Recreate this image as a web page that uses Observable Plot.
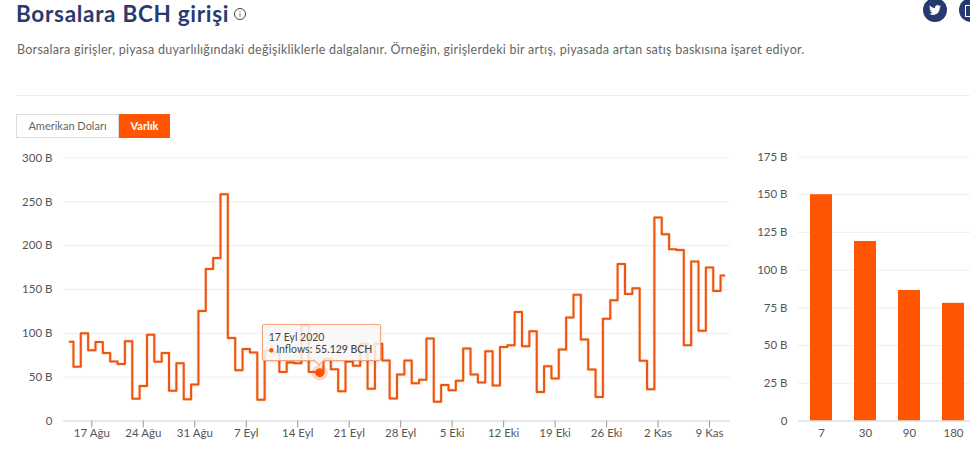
<!DOCTYPE html>
<html lang="tr">
<head>
<meta charset="utf-8">
<script src="https://cdn.jsdelivr.net/npm/d3@7"></script>
<script src="https://cdn.jsdelivr.net/npm/@observablehq/plot@0.6"></script>
<style>
html,body{margin:0;padding:0;background:#fff;width:970px;height:457px;overflow:hidden;font-family:Lato,sans-serif}
#page{position:relative;width:970px;height:457px;overflow:hidden}
.abs{position:absolute}
#title{left:16px;top:0;font-size:22.5px;font-weight:700;color:#2b3a6c;white-space:nowrap;line-height:normal;letter-spacing:.7px}
#info{left:234px;top:8px;width:10px;height:10px;border:1px solid #444;border-radius:50%;font-size:8px;line-height:10px;text-align:center;color:#444}
#sub{left:17px;top:42px;font-size:12.5px;color:#666;white-space:nowrap;line-height:16px;letter-spacing:.27px}
#sep{left:16px;top:95px;width:954px;height:1px;background:#eee}
.btn{top:114px;height:24px;line-height:24px;font-size:11px;text-align:center;box-sizing:border-box}
#b1{left:16px;width:103px;border:1px solid #ddd;color:#666;line-height:22px}
#b2{left:119px;width:51px;background:#ff5500;color:#fff;font-weight:700}
.ic{top:-2px;width:24px;height:24px;border-radius:50%;background:#273a70}
#tw{left:923px}
#ot{left:959px}
#tw svg{position:absolute;left:6px;top:6px;width:12px;height:12px;fill:#fff}
#ot i{position:absolute;left:6px;top:7px;width:6px;height:10px;border:1px solid #fff;display:block}
#c1,#c2{position:absolute}
#c2{width:240px}
#c2 svg{max-width:none}
#tip{position:absolute;box-sizing:border-box;width:119px;height:37px;background:rgba(247,247,247,.86);border:1px solid #f7a27a;border-radius:2px;box-shadow:0 1px 2px rgba(0,0,0,.15);color:#444;font-size:10.5px;line-height:12px;padding:6px 6px;white-space:nowrap}
#tip b{font-weight:500}
#tip .bul{color:#ff5500;font-size:9px;margin-right:2px}
#ptr{position:absolute;width:7px;height:7px;background:#f7f5f3;border-right:1px solid #f7a27a;border-bottom:1px solid #f7a27a;transform:rotate(45deg)}
</style>
</head>
<body>
<div id="page">
  <div class="abs" id="title">Borsalara BCH girişi</div>
  <div class="abs" id="info">i</div>
  <div class="abs ic" id="tw"><svg viewBox="0 0 24 24"><path d="M23.953 4.57a10 10 0 01-2.825.775 4.958 4.958 0 002.163-2.723c-.951.555-2.005.959-3.127 1.184a4.92 4.92 0 00-8.384 4.482C7.69 8.095 4.067 6.13 1.64 3.162a4.822 4.822 0 00-.666 2.475c0 1.71.87 3.213 2.188 4.096a4.904 4.904 0 01-2.228-.616v.06a4.923 4.923 0 003.946 4.827 4.996 4.996 0 01-2.212.085 4.936 4.936 0 004.604 3.417 9.867 9.867 0 01-6.102 2.105c-.39 0-.779-.023-1.17-.067a13.995 13.995 0 007.557 2.209c9.053 0 13.998-7.496 13.998-13.985 0-.21 0-.42-.015-.63A9.935 9.935 0 0024 4.59z"/></svg></div>
  <div class="abs ic" id="ot"><i></i></div>
  <div class="abs" id="sub">Borsalara girişler, piyasa duyarlılığındaki değişikliklerle dalgalanır. Örneğin, girişlerdeki bir artış, piyasada artan satış baskısına işaret ediyor.</div>
  <div class="abs" id="sep"></div>
  <div class="abs btn" id="b1">Amerikan Doları</div>
  <div class="abs btn" id="b2">Varlık</div>
  <div id="c1"></div>
  <div id="c2"></div>
</div>
<script>
// Daily BCH inflows (thousands, shown as "B"), 14 Aug 2020 – 11 Nov 2020
const firstDay = new Date(Date.UTC(2020, 7, 14));
const inflows = [
  90.5, 62, 100, 80.6, 90, 77.5, 68, 65, 91, 25.5, 40, 98.5, 67.7, 77.5, 34.6, 66, 24.7, 41.5,
  125.5, 173.4, 186, 258.6, 94.7, 58, 82, 78, 24.3, 80, 78, 56, 66.7, 66, 109, 56, 55.129, 71, 59, 33.9,
  68, 63, 88, 36.9, 88, 69, 25.6, 53, 69, 43, 47, 94, 22, 41, 35, 46, 82.7, 53, 44, 79.6, 40.4, 84.3,
  86.4, 124.4, 85.3, 102.4, 33, 62.5, 48.4, 81.5, 118, 144, 93, 58.7, 27.5, 116.5, 137.7, 179, 145, 151.5,
  68.6, 36.3, 232, 213, 196, 195, 86.5, 182, 103, 175, 148.4, 166
];
const inflowDays = inflows.map((_, i) => d3.utcDay.offset(firstDay, i));
const xTickDates = [[7,17],[7,24],[7,31],[8,7],[8,14],[8,21],[8,28],[9,5],[9,12],[9,19],[9,26],[10,2],[10,9]]
  .map(([m, d]) => new Date(Date.UTC(2020, m, d)));
const xTickLabels = ["17 Ağu","24 Ağu","31 Ağu","7 Eyl","14 Eyl","21 Eyl","28 Eyl","5 Eki","12 Eki","19 Eki","26 Eki","2 Kas","9 Kas"];
const xDomain = [new Date(Date.UTC(2020, 7, 13, 3, 36)), new Date(Date.UTC(2020, 10, 11, 20, 24))];
const yTicksLine = [0, 50, 100, 150, 200, 250, 300];

const periods = ["7", "30", "90", "180"];
const periodValues = [150, 119, 86.5, 78];
const yTicksBar = [0, 25, 50, 75, 100, 125, 150, 175];

const highlightDay = new Date(Date.UTC(2020, 8, 17));
const highlightValue = 55.129;

const ORANGE = "#ff5500", GRID = "#eeeeee", AXIS = "#d5d8de", TEXT = "#555";
const fmtB = d => d === 0 ? "0" : `${d} B`;
const fontStyle = {fontFamily: "Lato, sans-serif", fontSize: "11.5px", color: TEXT, background: "transparent"};

const c1Top = 140;
const lineData = inflowDays.map((d, i) => ({day: d, value: inflows[i]}));
const chart1 = Plot.plot({
  width: 730, height: 300,
  marginLeft: 63, marginRight: 0, marginTop: 17.5, marginBottom: 19.5,
  style: fontStyle,
  x: {type: "utc", domain: xDomain},
  y: {domain: [0, 300]},
  marks: [
    Plot.gridY(yTicksLine, {stroke: GRID, strokeOpacity: 1}),
    Plot.ruleY([0], {stroke: AXIS, strokeWidth: 1}),
    Plot.axisY({ticks: yTicksLine, tickSize: 0, tickPadding: 11, tickFormat: fmtB, label: null, fill: TEXT}),
    Plot.axisX({ticks: xTickDates, tickSize: 7, tickPadding: 1, stroke: "#999", fill: TEXT, label: null,
      tickFormat: d => xTickLabels[xTickDates.findIndex(t => +t === +d)]}),
    Plot.line(lineData, {x: "day", y: "value", curve: "step", stroke: "#ffb98f", strokeWidth: 3.4, strokeOpacity: .45}),
    Plot.line(lineData, {x: "day", y: "value", curve: "step", stroke: "#ec5510", strokeWidth: 2}),
    Plot.dot([{day: highlightDay, value: highlightValue}], {x: "day", y: "value", r: 8, fill: ORANGE, fillOpacity: .22}),
    Plot.dot([{day: highlightDay, value: highlightValue}], {x: "day", y: "value", r: 4.5, fill: ORANGE})
  ]
});
const c1 = document.getElementById("c1");
c1.style.left = "0px"; c1.style.top = c1Top + "px";
c1.appendChild(chart1);

// Tooltip anchored on the highlighted point through the chart's scales
const hx = chart1.scale("x").apply(highlightDay), hy = chart1.scale("y").apply(highlightValue) + c1Top;
const tip = document.createElement("div");
tip.id = "tip";
tip.style.left = (hx - 57.5) + "px";
tip.style.top = (hy - 48.5) + "px";
tip.innerHTML = '17 Eyl 2020<br><span class="bul">●</span>Inflows: <b>55.129 BCH</b>';
const ptr = document.createElement("div");
ptr.id = "ptr";
ptr.style.left = (hx - 4) + "px";
ptr.style.top = (hy - 16) + "px";
document.getElementById("page").append(tip, ptr);

const barData = periods.map((p, i) => ({period: p, value: periodValues[i]}));
const chart2 = Plot.plot({
  width: 231.2, height: 300,
  marginLeft: 54, marginRight: 0, marginTop: 16.5, marginBottom: 19.5,
  style: fontStyle,
  x: {type: "band", domain: periods, paddingInner: .51, paddingOuter: .255},
  y: {domain: [0, 175]},
  marks: [
    Plot.gridY(yTicksBar, {stroke: GRID, strokeOpacity: 1}),
    Plot.barY(barData, {x: "period", y: "value", fill: ORANGE}),
    Plot.ruleY([0], {stroke: AXIS, strokeWidth: 1}),
    Plot.axisY({ticks: yTicksBar, tickSize: 0, tickPadding: 11, tickFormat: fmtB, label: null, fill: TEXT}),
    Plot.axisX({tickSize: 0, tickPadding: 8, label: null, fill: TEXT})
  ]
});
const c2 = document.getElementById("c2");
c2.style.left = "744px"; c2.style.top = c1Top + "px";
c2.appendChild(chart2);
</script>
</body>
</html>
